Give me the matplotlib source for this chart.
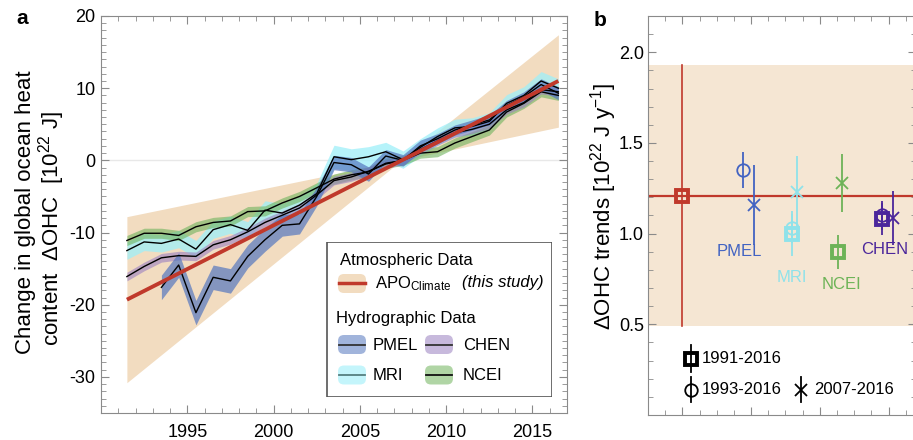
import numpy as np
import matplotlib
matplotlib.use('Agg')
import matplotlib.pyplot as plt
from matplotlib.ticker import MultipleLocator, FixedLocator, NullFormatter
from matplotlib.patches import FancyBboxPatch, Rectangle

plt.rcParams['font.family'] = ['Liberation Sans', 'DejaVu Sans']
plt.rcParams['mathtext.fontset'] = 'custom'
plt.rcParams['mathtext.rm'] = 'Liberation Sans'
plt.rcParams['mathtext.it'] = 'Liberation Sans:italic'
plt.rcParams['axes.unicode_minus'] = False

######  panel a data (1e22 J)

years = [1991.5, 1992.5, 1993.5, 1994.5, 1995.5, 1996.5, 1997.5, 1998.5, 1999.5,
         2000.5, 2001.5, 2002.5, 2003.5, 2004.5, 2005.5, 2006.5, 2007.5, 2008.5,
         2009.5, 2010.5, 2011.5, 2012.5, 2013.5, 2014.5, 2015.5, 2016.5]

ncei = [-11.1, -10.1, -10.1, -10.4, -9.2, -8.6, -8.4, -7.1, -7.0, -5.9, -5.0, -3.8, -2.6,
        -2.0, -1.6, -0.4, 0.0, 1.0, 1.2, 2.4, 3.3, 4.2, 6.7, 7.9, 9.5, 9.0]
ncei_err = 0.7

mri = [-12.5, -11.3, -11.5, -10.9, -12.3, -9.6, -8.9, -9.7, -6.9, -7.3, -6.2, -4.6, 0.5,
       0.1, 0.5, 1.2, 0.1, 1.8, 3.3, 4.5, 4.7, 5.4, 7.9, 9.0, 11.0, 10.0]
mri_err = [1.2, 1.2, 1.2, 1.2, 1.2, 1.2, 1.2, 1.2, 1.3, 1.3, 1.3, 1.4, 1.6,
           1.5, 1.4, 1.3, 1.2, 1.2, 1.2, 1.2, 1.2, 1.2, 1.2, 1.2, 1.3, 1.3]

chen = [-16.1, -14.7, -13.5, -13.2, -13.3, -11.7, -11.0, -9.9, -8.6, -7.6, -6.6, -4.8, -2.8,
        -2.3, -1.5, -0.5, 0.0, 1.5, 2.7, 3.8, 4.3, 5.0, 7.0, 8.0, 9.8, 9.5]
chen_err = 0.6

pmel_years = years[2:]
pmel = [-17.6, -14.5, -21.1, -16.2, -16.7, -13.3, -11.0, -9.0, -8.8, -5.0, -0.3,
        -0.6, -1.9, 0.6, 0.0, 2.0, 3.0, 4.2, 4.9, 5.6, 7.6, 8.8, 10.5, 9.3]
pmel_err = [1.7, 1.7, 1.7, 1.7, 1.7, 1.6, 1.6, 1.5, 1.4, 1.3, 1.0,
            1.0, 1.0, 0.9, 0.8, 0.8, 0.7, 0.7, 0.7, 0.7, 0.7, 0.7, 0.8, 0.9]

apo_x = [1991.5, 2007.4, 2016.5]
apo_mid = [-19.3, 0.0, 11.0]
apo_lo = [-30.8, 0.0, 4.6]
apo_hi = [-7.8, 0.0, 17.4]

######  panel b data (1e22 J/yr)

apo_trend, apo_trend_lo, apo_trend_hi = 1.21, 0.49, 1.93

names = ['PMEL', 'MRI', 'NCEI', 'CHEN']
cols = ['#4263c2', '#8fe2ea', '#6db357', '#4b269b']
pos_sq = [None, 8.37, 11.07, 13.64]
pos_ci = [5.54, 8.37, None, 13.64]
pos_x = [6.16, 8.68, 11.30, 14.27]
tr_1991 = [None, 1.00, 0.90, 1.08]
er_1991 = [None, 0.125, 0.095, 0.09]
tr_1993 = [1.35, 1.03, None, 1.10]
er_1993 = [0.10, 0.08, None, 0.08]
tr_2007 = [1.16, 1.23, 1.28, 1.085]
er_2007 = [0.22, 0.20, 0.16, 0.15]
lab_pos = [(5.29, 0.90), (8.35, 0.76), (11.26, 0.72), (13.80, 0.91)]

red = '#c0392b'
gray = '#8a8a8a'

W, H = 913, 440
fig = plt.figure(figsize=(W / 100, H / 100), dpi=100)

def px_axes(x0, y0, x1, y1):
    return fig.add_axes([x0 / W, 1 - y1 / H, (x1 - x0) / W, (y1 - y0) / H])

######  panel a

ax = px_axes(101, 16, 567, 413)
ax.axhline(0, color='#e8e8e8', lw=1, zorder=0)
ax.fill_between(apo_x, apo_lo, apo_hi, color='#f2dcc0', lw=0, zorder=1)

def band(x, y, e, c, a):
    y = np.array(y)
    ax.fill_between(x, y - np.array(e), y + np.array(e), color=c, alpha=a, lw=0, zorder=2)

band(years, mri, mri_err, '#9eeff9', 0.75)
band(years, ncei, ncei_err, '#6fb35c', 0.6)
band(years, chen, chen_err, '#9a80c0', 0.6)
band(pmel_years, pmel, pmel_err, '#5577bf', 0.7)

for x, y in [(years, mri), (years, ncei), (years, chen), (pmel_years, pmel)]:
    ax.plot(x, y, color='k', lw=1.0, zorder=4)
ax.plot([apo_x[0], apo_x[-1]], [apo_mid[0], apo_mid[-1]], color=red, lw=2.8,
        solid_capstyle='butt', zorder=6)

ax.set_xlim(1990, 2017)
ax.set_ylim(-35, 20)
ax.xaxis.set_major_locator(MultipleLocator(5))
ax.xaxis.set_minor_locator(MultipleLocator(1))
ax.yaxis.set_major_locator(MultipleLocator(10))
ax.yaxis.set_minor_locator(MultipleLocator(1))
ax.set_xticks([1995, 2000, 2005, 2010, 2015])
ax.tick_params(which='both', direction='in', top=True, right=True, color=gray, labelsize=13)
ax.tick_params(which='major', length=6)
ax.tick_params(which='minor', length=3.5)
ax.tick_params(axis='x', pad=8)
ax.tick_params(axis='y', pad=4)
for s in ax.spines.values():
    s.set_color(gray)

fig.text(26 / W, 1 - 212 / H, 'Change in global ocean heat', rotation=90,
         ha='center', va='center', fontsize=16)
fig.text(52 / W, 1 - 228 / H, 'content  \u0394OHC  [10$^{22}$ J]', rotation=90,
         ha='center', va='center', fontsize=16)
fig.text(22 / W, 1 - 19 / H, 'a', fontsize=15, fontweight='bold', ha='center', va='center')

# legend box
lg = px_axes(326, 242, 552, 397)
lg.set_xlim(0, 226)
lg.set_ylim(155, 0)
lg.axis('off')
lg.add_patch(Rectangle((0.5, 0.5), 225, 154, fill=False, ec='#555555', lw=1.2))

def swatch(x0, yc, c, a, lc):
    lg.add_patch(FancyBboxPatch((x0, yc - 9.5), 28, 19, boxstyle='round,pad=0,rounding_size=6',
                                fc=c, alpha=a, lw=0))
    lg.plot([x0 + 1, x0 + 27], [yc, yc], color=lc, lw=1.3)

fs = 12
lg.text(14, 19, 'Atmospheric Data', fontsize=fs, va='center')
swatch(12, 41.5, '#f2dcc0', 1.0, red)
lg.plot([13, 39], [41.5, 41.5], color=red, lw=2.5)
lg.text(49, 42, 'APO$_{\\mathrm{Climate}}$', fontsize=fs, va='center')
lg.text(136, 41, '(this study)', fontsize=fs, style='italic', va='center')
lg.text(10, 77, 'Hydrographic Data', fontsize=fs, va='center')
swatch(12, 102.5, '#5577bf', 0.55, '#333333')
lg.text(47, 103, 'PMEL', fontsize=fs, va='center')
swatch(99, 102.5, '#9a80c0', 0.55, '#333333')
lg.text(137, 103, 'CHEN', fontsize=fs, va='center')
swatch(12, 133, '#9eeff9', 0.6, '#557f80')
lg.text(47, 133, 'MRI', fontsize=fs, va='center')
swatch(99, 133, '#6fb35c', 0.55, '#111111')
lg.text(137, 133, 'NCEI', fontsize=fs, va='center')

######  panel b

bx = px_axes(648, 16, 916, 415)
bx.axhspan(apo_trend_lo, apo_trend_hi, color='#f5e6d3', lw=0, zorder=0)
bx.axhline(apo_trend, color=red, lw=1.6, zorder=2)
bx.plot([2, 2], [apo_trend_lo, apo_trend_hi], color=red, lw=1.2, zorder=2)
bx.plot([2], [apo_trend], marker='s', ms=9, mfc='none', mec=red, mew=2.8, zorder=5)

for i, n in enumerate(names):
    c = cols[i]
    if tr_1991[i] is not None:
        bx.errorbar(pos_sq[i], tr_1991[i], yerr=er_1991[i], fmt='none', ecolor=c, elinewidth=1.3, zorder=3)
        bx.plot([pos_sq[i]], [tr_1991[i]], marker='s', ms=9, mfc='none', mec=c, mew=2.8, zorder=5)
    if tr_1993[i] is not None:
        bx.errorbar(pos_ci[i], tr_1993[i], yerr=er_1993[i], fmt='none', ecolor=c, elinewidth=1.3, zorder=3)
        bx.plot([pos_ci[i]], [tr_1993[i]], marker='o', ms=9, mfc='none', mec=c, mew=1.3, zorder=5)
    bx.errorbar(pos_x[i], tr_2007[i], yerr=er_2007[i], fmt='none', ecolor=c, elinewidth=1.3, zorder=3)
    bx.plot([pos_x[i]], [tr_2007[i]], marker='x', ms=9, mec=c, mew=1.3, zorder=5)
    bx.text(lab_pos[i][0], lab_pos[i][1], n, color=c, fontsize=12, ha='center', va='center')

# symbol key
bx.plot([2.48, 2.48], [0.235, 0.385], color='k', lw=1.3)
bx.plot([2.48], [0.31], marker='s', ms=9, mfc='none', mec='k', mew=2.8)
bx.text(3.15, 0.31, '1991-2016', fontsize=12, va='center')
bx.plot([2.48, 2.48], [0.07, 0.21], color='k', lw=1.3)
bx.plot([2.48], [0.14], marker='o', ms=9, mfc='none', mec='k', mew=1.3)
bx.text(3.15, 0.14, '1993-2016', fontsize=12, va='center')
bx.plot([8.93, 8.93], [0.07, 0.21], color='k', lw=1.3)
bx.plot([8.93], [0.14], marker='x', ms=9, mec='k', mew=1.3)
bx.text(9.65, 0.14, '2007-2016', fontsize=12, va='center')

bx.set_xlim(0, 15.6)
bx.set_ylim(0, 2.2)
bx.xaxis.set_major_locator(FixedLocator([2, 6, 10, 14]))
bx.xaxis.set_minor_locator(MultipleLocator(1))
bx.xaxis.set_major_formatter(NullFormatter())
bx.set_yticks([0.5, 1.0, 1.5, 2.0])
bx.set_yticklabels(['0.5', '1.0', '1.5', '2.0'])
bx.yaxis.set_minor_locator(MultipleLocator(0.1))
bx.tick_params(which='both', direction='in', top=True, right=True, color=gray, labelsize=13)
bx.tick_params(which='major', length=6)
bx.tick_params(which='minor', length=3.5)
bx.tick_params(axis='y', pad=3)
for s in bx.spines.values():
    s.set_color(gray)

fig.text(604 / W, 1 - 206 / H, '\u0394OHC trends [10$^{22}$ J y$^{-1}$]', rotation=90,
         ha='center', va='center', fontsize=16)
fig.text(600 / W, 1 - 20 / H, 'b', fontsize=15, fontweight='bold', ha='center', va='center')

fig.savefig('out.png', dpi=100)
